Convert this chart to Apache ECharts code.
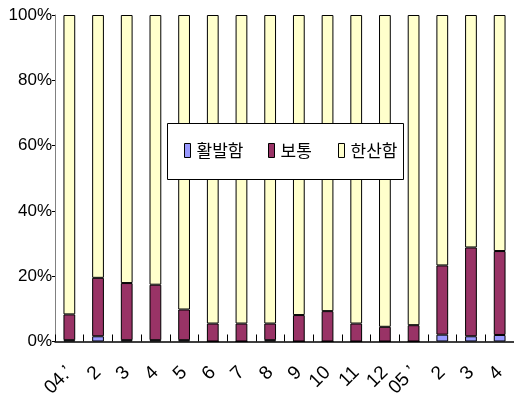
<!DOCTYPE html>
<html>
<head>
<meta charset="utf-8">
<script src="https://cdn.jsdelivr.net/npm/echarts@6/dist/echarts.min.js"></script>
<style>
  html, body { margin: 0; padding: 0; background: #fff; }
  #chart { width: 514px; height: 400px; }
</style>
</head>
<body>
<div id="chart"></div>
<script>
// Monthly share of each activity level (percent of 100)
const categories = ["04.’", "2", "3", "4", "5", "6", "7", "8", "9", "10", "11", "12", "05 ’", "2", "3", "4"];
const seriesNames = ["활발함", "보통", "한산함"];
const active = [0.4, 1.6, 0.4, 0.4, 0.4, 0, 0, 0.4, 0, 0, 0, 0, 0, 2.1, 1.6, 2.0];
const normal = [7.9, 17.9, 17.5, 17.0, 9.4, 5.5, 5.5, 5.1, 8.1, 9.3, 5.5, 4.5, 5.0, 21.2, 27.2, 25.7];
const quiet = [91.7, 80.5, 82.1, 82.6, 90.2, 94.5, 94.5, 94.5, 91.9, 90.7, 94.5, 95.5, 95.0, 76.7, 71.2, 72.3];
const yTicks = [0, 20, 40, 60, 80, 100];

const colors = ["#9999FF", "#993366", "#FFFFCC"];
const numFont = '"Liberation Sans", Arial, sans-serif';
const krFont = '"Noto Sans CJK KR", sans-serif';

const chart = echarts.init(document.getElementById('chart'), null, { renderer: 'canvas' });

const valueSets = [active, normal, quiet];
const series = seriesNames.map((name, i) => ({
  name,
  type: 'bar',
  stack: 'share',
  barWidth: '41%',
  data: valueSets[i],
  itemStyle: { color: colors[i], borderColor: '#000', borderWidth: 1 },
  emphasis: { disabled: true }
}));

// one legend per entry so each key sits at its own spot inside the framed box
const legendLefts = [184, 268, 338];
const legends = seriesNames.map((name, i) => ({
  data: [name],
  left: legendLefts[i],
  top: 142,
  padding: 0,
  itemWidth: 6,
  itemHeight: 14,
  itemGap: 0,
  icon: 'rect',
  itemStyle: { borderColor: '#000', borderWidth: 1 },
  textStyle: { fontFamily: krFont, fontSize: 17, color: '#000', padding: [0, 0, 0, 1] },
  z: 10
}));

chart.setOption({
  animation: false,
  backgroundColor: '#fff',
  grid: { left: 55, right: -5, top: 15, bottom: 56, containLabel: false },
  graphic: [{
    type: 'rect',
    left: 167,
    top: 123,
    shape: { width: 236, height: 56 },
    style: { fill: '#fff', stroke: '#000', lineWidth: 1 },
    z: 5
  }],
  legend: legends,
  xAxis: {
    type: 'category',
    data: categories,
    axisLine: { lineStyle: { color: '#000', width: 1.5 } },
    axisTick: { show: true, inside: true, length: 7, alignWithLabel: false, lineStyle: { color: '#000' } },
    axisLabel: {
      rotate: 45,
      margin: 28,
      interval: 0,
      fontFamily: numFont,
      fontSize: 19,
      color: '#000'
    },
    splitLine: { show: false }
  },
  yAxis: {
    type: 'value',
    min: yTicks[0],
    max: yTicks[yTicks.length - 1],
    interval: 20,
    axisLine: { show: true, lineStyle: { color: '#808080', width: 1 } },
    axisTick: { show: true, inside: false, length: 3, lineStyle: { color: '#000' } },
    axisLabel: {
      formatter: '{value}%',
      margin: 3,
      fontFamily: numFont,
      fontSize: 17,
      color: '#000'
    },
    splitLine: { show: false }
  },
  series
});
</script>
</body>
</html>
